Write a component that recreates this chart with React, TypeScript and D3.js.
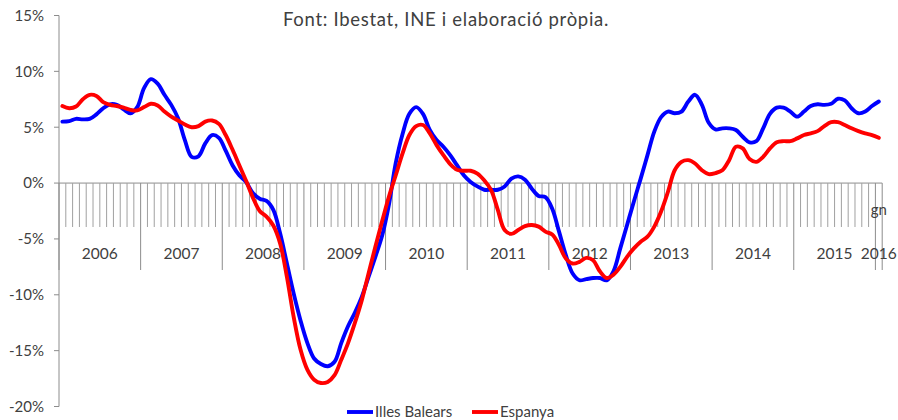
import React from "react";
import * as d3 from "d3";

// font / title / legend
const title = "Font: Ibestat, INE i elaboració pròpia.";
const seriesNames = ["Illes Balears", "Espanya"];
const seriesColors = ["#0000ff", "#ff0000"];

// x categories: monthly, gener 2006 .. gener 2016
const years = ["2006", "2007", "2008", "2009", "2010", "2011", "2012", "2013", "2014", "2015", "2016"];
const lastMonthLabel = "gn";

// y ticks (%)
const yTicks = [-20, -15, -10, -5, 0, 5, 10, 15];

// year-on-year change, %
const balears = [
  5.5, 5.55, 5.75, 5.7, 5.75, 6.15, 6.7, 7.05, 7.0, 6.6, 6.25, 6.8,
  8.5, 9.3, 8.9, 7.9, 7.0, 5.8, 3.85, 2.35, 2.4, 3.55, 4.3, 4.05,
  2.9, 1.6, 0.7, 0.1, -0.9, -1.4, -1.6, -2.4, -4.5, -7.2, -9.9, -12.3,
  -14.3, -15.7, -16.2, -16.4, -16.0, -14.3, -12.8, -11.6, -10.2, -8.4, -6.6, -4.7,
  -1.9, 1.8, 4.4, 6.2, 6.8, 6.2, 4.75, 3.85, 3.25, 2.5, 1.6, 0.7,
  0.1, -0.3, -0.6, -0.6, -0.6, -0.3, 0.4, 0.6, 0.3, -0.5, -1.15, -1.25,
  -2.3, -4.35, -6.45, -8.1, -8.7, -8.6, -8.5, -8.5, -8.7, -7.9, -5.85, -3.75,
  -1.65, 0.4, 2.5, 4.6, 5.9, 6.4, 6.25, 6.4, 7.3, 7.9, 7.0, 5.4,
  4.8, 4.9, 4.9, 4.75, 4.15, 3.65, 3.75, 4.9, 6.2, 6.75, 6.75, 6.4,
  5.95, 6.4, 6.9, 7.05, 7.0, 7.1, 7.55, 7.4, 6.7, 6.25, 6.4, 6.9,
  7.3,
];
const espanya = [
  6.9, 6.7, 6.85, 7.5, 7.9, 7.8, 7.25, 7.0, 6.9, 6.75, 6.55, 6.5,
  6.8, 7.1, 6.95, 6.4, 5.95, 5.6, 5.25, 5.0, 5.1, 5.5, 5.6, 5.3,
  4.3, 3.0, 1.6, 0.2, -1.3, -2.5, -3.0, -3.8, -5.4, -8.4, -12.0, -14.9,
  -16.7, -17.6, -17.9, -17.8, -17.2, -15.8, -14.3, -12.5, -10.5, -8.1, -5.7, -3.4,
  -1.2, 0.7, 2.65, 4.3, 5.1, 5.2, 4.45, 3.4, 2.5, 1.7, 1.2, 1.1,
  1.1, 0.85, 0.25, -0.6, -2.4, -4.2, -4.55, -4.2, -3.85, -3.75, -3.9, -4.35,
  -4.6, -5.55, -6.75, -7.2, -7.05, -6.7, -6.9, -7.9, -8.5, -8.2, -7.5, -6.6,
  -5.85, -5.25, -4.8, -3.9, -2.55, -0.8, 1.15, 1.9, 2.05, 1.75, 1.15, 0.8,
  0.9, 1.15, 2.05, 3.25, 3.1, 2.15, 1.9, 2.35, 3.1, 3.65, 3.75, 3.75,
  4.0, 4.3, 4.45, 4.65, 5.1, 5.45, 5.45, 5.2, 4.9, 4.65, 4.45, 4.3,
  4.05,
];

const W = 898;
const H = 420;
const font = "Lato, 'Open Sans', sans-serif";
const axisColor = "#8c8c8c";
const textColor = "#404040";

export default function App() {
  const n = balears.length;
  // band axis, points drawn at category centres
  const x = d3.scaleLinear().domain([0, n]).range([59, 882.2]);
  const y = d3.scaleLinear().domain([-20, 15]).range([406.5, 15.5]);
  const y0 = y(0);
  const tickBottom = 227;
  const sepBottom = 270;

  const line = d3
    .line<number>()
    .x((_, i) => x(i + 0.5))
    .y((d) => y(d))
    .curve(d3.curveCatmullRom.alpha(0.5));

  // index of the first month of each year
  const yearStart = (k: number) => k * 12;
  const yearEnd = (k: number) => Math.min(k * 12 + 12, n);

  return (
    <svg
      width={W}
      height={H}
      style={{ position: "absolute", left: 0, top: 0, background: "#fff" }}
      fontFamily={font}
    >
      <text x={446} y={26} textAnchor="middle" fontSize={18.5} letterSpacing={0.7} fill={textColor}>
        {title}
      </text>

      {/* y axis */}
      <line x1={x(0)} x2={x(0)} y1={y(15)} y2={y(-20)} stroke={axisColor} strokeWidth={1} />
      {yTicks.map((t) => (
        <g key={t}>
          <line x1={x(0) - 5} x2={x(0)} y1={y(t)} y2={y(t)} stroke={axisColor} />
          <text
            x={44}
            y={y(t)}
            dy="0.36em"
            textAnchor="end"
            fontSize={15}
            fill={textColor}
          >
            {t + "%"}
          </text>
        </g>
      ))}

      {/* category axis at 0 */}
      <line x1={x(0)} x2={x(n)} y1={y0} y2={y0} stroke={axisColor} />
      {d3.range(n + 1).map((i) => (
        <line
          key={"m" + i}
          x1={x(i)}
          x2={x(i)}
          y1={y0}
          y2={i % 12 === 0 || i === n ? sepBottom : tickBottom}
          stroke={i % 12 === 0 || i === n ? axisColor : "#a0a0a0"}
          strokeWidth={1}
        />
      ))}
      <text x={x(n - 0.5)} y={215} textAnchor="middle" fontSize={15} fill={textColor}>
        {lastMonthLabel}
      </text>
      {years.map((yr, k) => (
        <text
          key={yr}
          x={(x(yearStart(k)) + x(yearEnd(k))) / 2}
          y={259}
          textAnchor="middle"
          fontSize={15.5}
          fill={textColor}
        >
          {yr}
        </text>
      ))}

      {/* series */}
      {[balears, espanya].map((s, k) => (
        <path
          key={seriesNames[k]}
          d={line(s) || ""}
          fill="none"
          stroke={seriesColors[k]}
          strokeWidth={3.9}
          strokeLinejoin="round"
          strokeLinecap="round"
        />
      ))}

      {/* legend */}
      {seriesNames.map((name, k) => {
        const lx = k === 0 ? 347 : 472;
        return (
          <g key={name}>
            <line x1={lx} x2={lx + 26} y1={412} y2={412} stroke={seriesColors[k]} strokeWidth={3.9} />
            <text x={lx + 28} y={417} fontSize={15} fill={textColor}>
              {name}
            </text>
          </g>
        );
      })}
    </svg>
  );
}
